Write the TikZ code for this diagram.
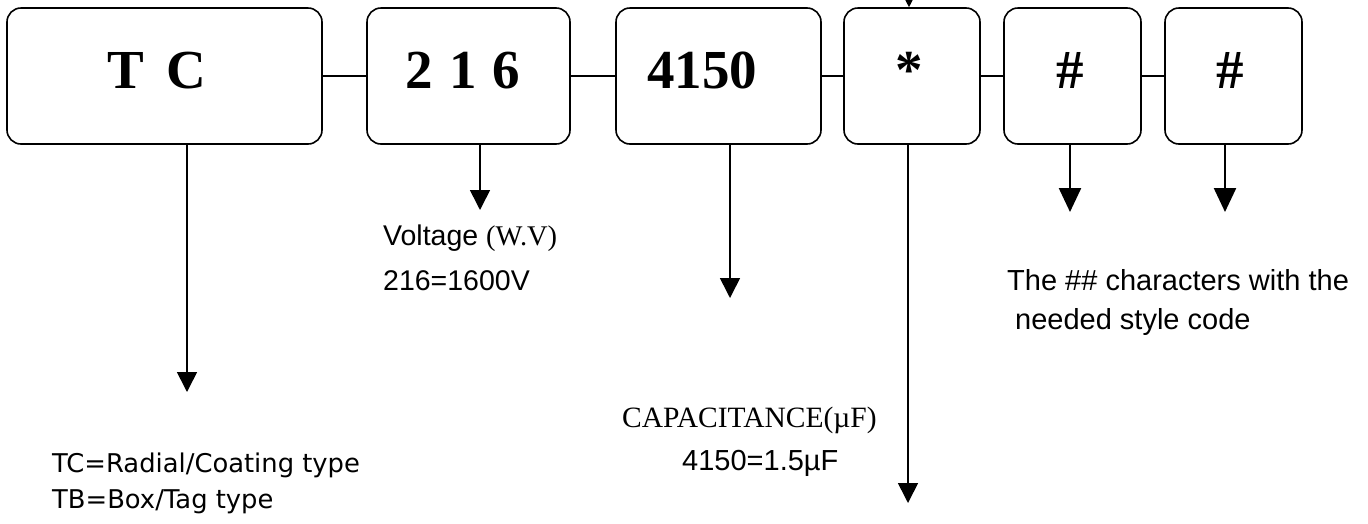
\documentclass[tikz,border=0pt]{standalone}
\usepackage{fontspec}
\setmainfont{Liberation Serif}
\newfontfamily\arial{Liberation Sans}
\newfontfamily\tahoma{DejaVu Sans}
\usetikzlibrary{arrows.meta}
\tikzset{
  box/.style={draw, line width=1.6pt, rounded corners=14pt, inner sep=0pt},
  boxtext/.style={anchor=base, inner sep=0pt, font=\fontsize{55}{60}\selectfont\bfseries},
  link/.style={line width=1.6pt},
  arr/.style={line width=1.6pt, -{Triangle[length=20pt,width=20pt]}},
  arrsmall/.style={line width=1.4pt, -{Triangle[length=10pt,width=10pt]}},
  arrbig/.style={line width=2.4pt, -{Triangle[length=24pt,width=22pt]}},
  lbl/.style={anchor=base west, inner sep=0pt},
}
\begin{document}
\begin{tikzpicture}[x=1pt,y=-1pt]
\useasboundingbox (0,0) rectangle (1368,523);
% boxes
\node[box, minimum width=315pt, minimum height=136pt] (b1) at (164.5,76) {};
\node[box, minimum width=203pt, minimum height=136pt] (b2) at (468.5,76) {};
\node[box, minimum width=205pt, minimum height=136pt] (b3) at (718.5,76) {};
\node[box, minimum width=136pt, minimum height=136pt] (b4) at (912,76) {};
\node[box, minimum width=137pt, minimum height=136pt] (b5) at (1072.5,76) {};
\node[box, minimum width=137pt, minimum height=136pt] (b6) at (1233.5,76) {};
% box texts
\node[boxtext] (t1) at (157,88) {T\hspace{22pt}C};
\node[boxtext] (t2) at (463,88) {2\hspace{16pt}1\hspace{16pt}6};
\node[boxtext] (t3) at (702,88) {4150};
\node[boxtext] (t4) at (909,88) {*};
\node[boxtext] (t5) at (1070,88) {\#};
\node[boxtext] (t6) at (1230,88) {\#};
% links
\draw[link] (b1) -- (b2);
\draw[link] (b2) -- (b3);
\draw[link] (b3) -- (b4);
\draw[link] (b4) -- (b5);
\draw[link] (b5) -- (b6);
% arrow ends
\coordinate (e1) at (187,392);
\coordinate (e2) at (480,210);
\coordinate (e3) at (730,298);
\coordinate (e4) at (908,503);
\coordinate (e5) at (1070,212);
\coordinate (e6) at (1225,212);
\coordinate (s0) at (909,-30);
\draw[arr] (b1.south -| e1) -- (e1);
\draw[arr] (b2.south -| e2) -- (e2);
\draw[arr] (b3.south -| e3) -- (e3);
\draw[arr] (b4.south -| e4) -- (e4);
\draw[arrbig] (b5.south -| e5) -- (e5);
\draw[arrbig] (b6.south -| e6) -- (e6);
\draw[arrsmall] (s0) -- (b4.north -| s0);
% labels
\node[lbl, font=\arial\fontsize{28.5}{30}\selectfont] (v1) at (383,245) {Voltage {\rmfamily (W.V)}};
\node[lbl, font=\arial\fontsize{28.5}{30}\selectfont] (v2) at (383,290) {216=1600V};
\node[lbl, font=\tahoma\fontsize{25.8}{28}\selectfont] (r1) at (52,472) {TC=Radial/Coating type};
\node[lbl, font=\tahoma\fontsize{25.8}{28}\selectfont] (r2) at (52,508) {TB=Box/Tag type};
\node[lbl, font=\fontsize{29.5}{31}\selectfont] (c1) at (622,427) {CAPACITANCE(µF)};
\node[lbl, font=\arial\fontsize{29}{31}\selectfont] (c2) at (682,470) {4150=1.5µF};
\node[lbl, font=\arial\fontsize{29}{31}\selectfont] (h1) at (1007,290) {The \#\# characters with the};
\node[lbl, font=\arial\fontsize{29}{31}\selectfont] (h2) at (1015,329) {needed style code};
\end{tikzpicture}
\end{document}
